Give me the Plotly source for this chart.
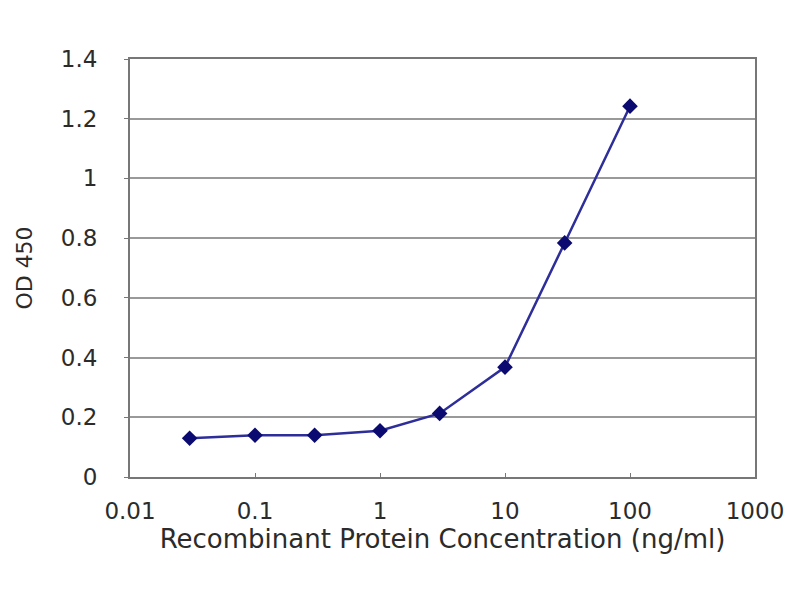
import plotly.graph_objects as go

# ELISA standard curve values
concentration = [0.03, 0.1, 0.3, 1, 3, 10, 30, 100]
od450 = [0.13, 0.14, 0.14, 0.155, 0.213, 0.368, 0.784, 1.242]

x_ticks = [0.01, 0.1, 1, 10, 100, 1000]
x_tick_text = ["0.01", "0.1", "1", "10", "100", "1000"]
y_ticks = [0, 0.2, 0.4, 0.6, 0.8, 1, 1.2, 1.4]
y_tick_text = ["0", "0.2", "0.4", "0.6", "0.8", "1", "1.2", "1.4"]

font_col = "#2b2b2b"
fam = "DejaVu Sans, Arial, sans-serif"

fig = go.Figure()
fig.add_trace(
    go.Scatter(
        x=concentration,
        y=od450,
        mode="lines+markers",
        line=dict(color="#2e2e9a", width=2.5),
        marker=dict(symbol="diamond", size=12, color="#0a0a70"),
        showlegend=False,
    )
)

# page body adds ~8px offset, so margins are shifted by that
fig.update_layout(
    width=800,
    height=600,
    margin=dict(l=122, r=53, t=51, b=131),
    paper_bgcolor="white",
    plot_bgcolor="white",
    font=dict(family=fam, size=20, color=font_col),
)

fig.update_xaxes(
    type="log",
    range=[-2, 3],
    tickvals=x_ticks,
    ticktext=x_tick_text,
    ticks="inside",
    ticklen=4,
    tickcolor="#777",
    ticklabelstandoff=12,
    showgrid=False,
    showline=True,
    linecolor="#777",
    linewidth=2,
    mirror=True,
    title=dict(text="Recombinant Protein Concentration (ng/ml)", standoff=0,
               font=dict(family=fam, size=26, color=font_col)),
    tickfont=dict(family=fam, size=23, color=font_col),
)

fig.update_yaxes(
    range=[0, 1.4],
    tickvals=y_ticks,
    ticktext=y_tick_text,
    ticks="outside",
    ticklen=4,
    tickcolor="#777",
    ticklabelstandoff=22,
    showgrid=True,
    gridcolor="#999",
    gridwidth=2,
    showline=True,
    linecolor="#777",
    linewidth=2,
    mirror=True,
    zeroline=False,
    title=dict(text="OD 450", standoff=22, font=dict(family=fam, size=22, color=font_col)),
    tickfont=dict(family=fam, size=23, color=font_col),
)

fig.write_html("out.html")
